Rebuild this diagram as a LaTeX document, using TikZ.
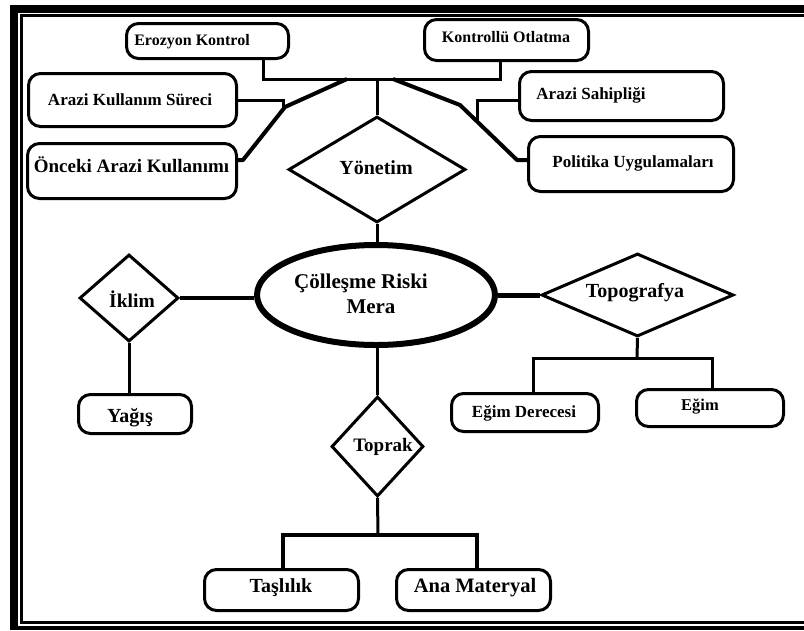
\documentclass[tikz,border=0pt]{standalone}
\usepackage{fontspec}
\setmainfont{Liberation Serif}
\usetikzlibrary{shapes.geometric}
\tikzset{
  box/.style={draw, line width=3pt, rounded corners=12pt, inner sep=0pt},
  dia/.style={diamond, draw, line width=3pt, inner sep=0pt},
  lbl/.style={font=\bfseries\fontsize{#1}{#1}\selectfont, inner sep=0pt, text=black},
  conn/.style={line width=3pt},
  diag/.style={line width=4pt, line join=round},
}
\begin{document}
\begin{tikzpicture}[x=1pt,y=-1pt]
\useasboundingbox (0,0) rectangle (804,630);
% frame
\draw[line width=8pt] (14,5) -- (14,630);
\draw[line width=8pt] (10,9) -- (804,9);
\draw[line width=4pt] (10,628) -- (804,628);
\draw[line width=2.5pt] (804,15.3) -| (21.3,622.7) -- (804,622.7);

% boxes
\node[box, minimum width=162pt, minimum height=35pt] (eroz) at (207.5,41) {};
\node[lbl=16] (erozT) at (192,42) {Erozyon Kontrol};
\node[box, minimum width=164pt, minimum height=41pt] (kont) at (506.5,40) {};
\node[lbl=16] (kontT) at (506,37) {Kontrollü Otlatma};
\node[box, minimum width=208pt, minimum height=53pt] (aks) at (132.5,100) {};
\node[lbl=17] (aksT) at (130,100) {Arazi Kullanım Süreci};
\node[box, minimum width=209pt, minimum height=55pt] (onc) at (132,171) {};
\node[lbl=19] (oncT) at (131.5,165) {Önceki Arazi Kullanımı};
\node[box, minimum width=204pt, minimum height=49pt] (sah) at (621.5,96) {};
\node[lbl=17] (sahT) at (591,95) {Arazi Sahipliği};
\node[box, minimum width=205pt, minimum height=55pt] (pol) at (631,164) {};
\node[lbl=17] (polT) at (633,163) {Politika Uygulamaları};
\node[box, minimum width=113pt, minimum height=39pt] (yagis) at (135,414) {};
\node[lbl=20] (yagisT) at (130,418) {Yağış};
\node[box, minimum width=147pt, minimum height=38pt] (egimd) at (525,412.5) {};
\node[lbl=17] (egimdT) at (524,413) {Eğim Derecesi};
\node[box, minimum width=147pt, minimum height=37pt] (egim) at (710,408) {};
\node[lbl=16.5] (egimT) at (700,407) {Eğim};
\node[box, minimum width=154pt, minimum height=41pt] (tas) at (281.5,590) {};
\node[lbl=20] (tasT) at (281,588) {Taşlılık};
\node[box, minimum width=154pt, minimum height=41pt] (ana) at (473.5,590) {};
\node[lbl=20.5] (anaT) at (475,588) {Ana Materyal};

% diamonds
\node[dia, minimum width=177pt, minimum height=106pt] (yon) at (377,169.5) {};
\node[lbl=20] (yonT) at (376,168) {Yönetim};
\node[dia, minimum width=99pt, minimum height=87pt] (ik) at (129,298) {};
\node[lbl=19.5] (ikT) at (132,299) {İklim};
\node[dia, minimum width=192pt, minimum height=83pt] (topo) at (637.5,295) {};
\node[lbl=20] (topoT) at (635,293) {Topografya};
\node[dia, minimum width=92pt, minimum height=100pt] (top) at (377.5,446.5) {};
\node[lbl=19] (topT) at (383,447) {Toprak};

% ellipse
\node[ellipse, draw, line width=6pt, minimum width=238pt, minimum height=100pt, inner sep=0pt] (ell) at (376,295) {};
\node[lbl=21] (ellT1) at (361,283) {Çölleşme Riski};
\node[lbl=21] (ellT2) at (371,307) {Mera};

% top connectors
\coordinate (hb) at (377,79);
\draw[conn] ([xshift=55.5pt]eroz.south) |- (hb) -| ([xshift=-6.5pt]kont.south);
\draw[conn] (hb) -- (yon.north);
\coordinate (la) at (347,79);
\coordinate (lb) at (285,107);
\coordinate (lc) at (243,160);
\draw[diag] (la) -- (lb) -- (lc) -- ([yshift=11pt]onc.east);
\coordinate (ld) at (283,109.5);
\draw[conn] (aks.east) -| (ld);
\coordinate (ra) at (393,79);
\coordinate (rb) at (460,105);
\coordinate (rc) at (517,160);
\draw[diag] (ra) -- (rb) -- (rc) -- ([yshift=4pt]pol.west);
\coordinate (rd) at (477,121);
\draw[conn] ([yshift=-4pt]sah.west) -| (rd);

% middle connectors
\draw[conn] (yon.south) -- (yon.south |- ell.north);
\draw[line width=4pt] (ik.east) -- (ik.east -| ell.west);
\draw[conn] (ik.south) -- (ik.south |- yagis.north);
\draw[line width=5pt] (ell.east) -- (topo.west);
\coordinate (tj) at (637,358);
\draw[conn] (topo.south) -- (tj);
\draw[conn] ([xshift=8pt]egimd.north) |- (tj) -| ([xshift=2pt]egim.north);
\draw[conn] (top.north |- ell.south) -- (top.north);
\coordinate (sj) at (378,535);
\draw[conn] (top.south) -- (sj);
\draw[line width=4.5pt] ([xshift=1.5pt]tas.north) |- (sj) -| ([xshift=3.5pt]ana.north);
\end{tikzpicture}
\end{document}
